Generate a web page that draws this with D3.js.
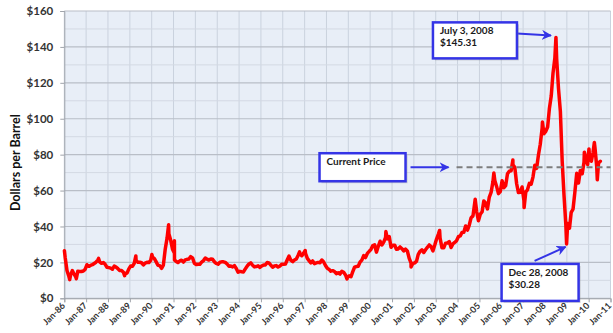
<!DOCTYPE html>
<html>
<head>
<meta charset="utf-8">
<script src="https://cdn.jsdelivr.net/npm/d3@7"></script>
<style>
  body { margin: 0; background: #fff; }
  svg { display: block; font-family: Lato, "Open Sans", sans-serif; }
</style>
</head>
<body>
<script>
// monthly crude price, Jan 1986 .. Jul 2010 (one row per year)
var firstMonth = "1986-01";
var monthlyPrices = [
  22.9, 15.5, 12.6, 12.8, 15.4, 13.4, 11.6, 15.1, 14.9, 14.9, 15.2, 16.1,
  18.7, 17.8, 18.3, 18.7, 19.4, 20.1, 21.3, 20.3, 19.5, 19.9, 18.9, 17.3,
  17.1, 16.8, 16.2, 17.9, 17.4, 16.5, 15.5, 15.5, 14.5, 13.8, 14.1, 16.4,
  18.0, 17.9, 19.5, 21.1, 20.1, 20.1, 19.8, 18.6, 19.6, 20.1, 19.9, 21.1,
  22.9, 22.1, 20.4, 18.4, 18.2, 16.7, 18.5, 27.3, 33.5, 36.0, 32.3, 27.3,
  25.2, 20.5, 19.9, 20.8, 21.2, 20.2, 21.4, 21.7, 21.9, 23.2, 22.5, 19.5,
  18.8, 19.0, 18.9, 20.2, 21.0, 22.4, 21.8, 21.3, 21.9, 21.7, 20.3, 19.4,
  19.0, 20.1, 20.3, 20.3, 20.0, 19.1, 17.9, 18.0, 17.5, 18.2, 16.6, 14.5,
  15.0, 14.8, 14.7, 16.4, 17.9, 19.1, 19.7, 18.4, 17.5, 17.7, 18.1, 17.2,
  18.0, 18.6, 18.5, 19.9, 19.7, 18.5, 17.3, 18.0, 18.2, 17.4, 18.0, 19.0,
  18.9, 19.1, 21.3, 23.5, 21.2, 20.4, 21.3, 21.9, 24.0, 24.9, 23.7, 25.2,
  25.1, 22.2, 21.0, 19.7, 20.8, 19.3, 19.7, 20.0, 19.8, 21.3, 20.2, 18.3,
  16.7, 16.1, 15.1, 15.4, 14.9, 13.7, 14.2, 13.5, 15.0, 14.5, 13.0, 11.4,
  12.5, 12.0, 14.7, 17.3, 17.7, 17.9, 20.1, 21.3, 23.8, 22.7, 25.0, 26.1,
  27.3, 29.4, 29.8, 25.7, 28.8, 31.8, 29.7, 31.3, 33.9, 33.1, 34.4, 28.4,
  29.6, 29.6, 27.3, 27.5, 28.6, 27.6, 26.4, 27.4, 26.2, 22.2, 19.6, 19.4,
  19.7, 20.7, 24.5, 26.2, 27.0, 25.5, 27.0, 28.4, 29.7, 28.8, 26.4, 29.5,
  33.0, 35.8, 33.5, 28.2, 28.1, 30.7, 30.8, 31.6, 28.3, 30.3, 31.1, 32.1,
  34.3, 34.7, 36.7, 36.8, 40.3, 38.0, 40.8, 44.9, 45.9, 53.3, 48.5, 43.2,
  46.8, 48.2, 54.2, 53.0, 49.8, 56.4, 59.0, 65.0, 65.6, 62.3, 58.3, 59.4,
  65.5, 61.6, 62.7, 69.4, 70.8, 71.0, 74.4, 73.0, 63.8, 58.9, 59.1, 62.0,
  54.5, 59.3, 60.4, 64.0, 63.5, 67.5, 74.1, 72.4, 79.9, 85.8, 94.8, 91.7,
  93.0, 95.4, 105.5, 112.6, 125.4, 133.9, 133.4, 116.7, 104.1, 76.6, 57.3, 41.1,
  41.7, 39.1, 47.9, 49.7, 59.0, 69.6, 64.2, 71.1, 69.4, 75.7, 78.0, 74.5,
  78.3, 76.4, 81.2, 84.3, 73.7, 75.3, 76.3
];

// daily highs and lows that show as spikes on the chart
var spikeDates = [
  "1986-01-03", "1986-04-01", "1986-07-21", "1987-07-28", "1988-10-05",
  "1989-04-11", "1990-01-04", "1990-10-11", "1991-01-16", "1991-01-17",
  "1996-10-08", "1997-01-10", "1998-12-10", "2000-09-20", "2001-11-15",
  "2003-03-07", "2004-10-22", "2005-08-30", "2006-07-14", "2007-01-18",
  "2007-11-20", "2008-07-03", "2008-12-28", "2009-10-21", "2010-01-06",
  "2010-04-06", "2010-05-25"
];
var spikePrices = [
  26.5, 10.4, 10.9, 22.2, 12.6,
  23.6, 24.4, 41.0, 32.0, 21.4,
  25.9, 26.6, 10.8, 37.2, 17.5,
  37.8, 55.2, 69.8, 77.0, 50.5,
  98.2, 145.31, 30.28, 81.4, 83.2,
  86.8, 66.0
];

var yTicks = [0, 20, 40, 60, 80, 100, 120, 140, 160];
var yMinor = [10, 30, 50, 70, 90, 110, 130, 150];

var currentPrice = 73;
var currentFrom = "2003-12-15";

var peakText = ["July 3, 2008", "$145.31"];
var lowText = ["Dec 28, 2008", "$30.28"];
var currentText = "Current Price";

var W = 613, H = 333;
var margin = { top: 11, right: 2.5, bottom: 34.7, left: 64.3 };

var parseDay = d3.utcParse("%Y-%m-%d");
var parseMonth = d3.utcParse("%Y-%m");

var points = monthlyPrices.map(function (v, i) {
  var d = d3.utcMonth.offset(parseMonth(firstMonth), i);
  return { date: d3.utcDay.offset(d, 14), value: v };
});
spikeDates.forEach(function (s, i) {
  points.push({ date: parseDay(s), value: spikePrices[i] });
});
points.sort(function (a, b) { return a.date - b.date; });

var svg = d3.select("body").append("svg")
  .attr("width", W)
  .attr("height", H);

var x = d3.scaleUtc()
  .domain([parseDay("1986-01-01"), parseDay("2011-01-01")])
  .range([margin.left, W - margin.right]);

var y = d3.scaleLinear()
  .domain([0, 160])
  .range([H - margin.bottom, margin.top]);

var years = d3.utcYears(parseDay("1986-01-01"), parseDay("2011-01-02"));

// plot background
svg.append("rect")
  .attr("x", x.range()[0])
  .attr("y", y(160))
  .attr("width", x.range()[1] - x.range()[0])
  .attr("height", y(0) - y(160))
  .attr("fill", "#e8eef7");

var grid = svg.append("g");
grid.selectAll(".vg")
  .data(years)
  .enter().append("line")
  .attr("x1", function (d) { return x(d); })
  .attr("x2", function (d) { return x(d); })
  .attr("y1", y(160))
  .attr("y2", y(0))
  .attr("stroke", "#cad2de")
  .attr("stroke-width", 1);

grid.selectAll(".hm")
  .data(yMinor)
  .enter().append("line")
  .attr("x1", x.range()[0])
  .attr("x2", x.range()[1])
  .attr("y1", function (d) { return y(d); })
  .attr("y2", function (d) { return y(d); })
  .attr("stroke", "#d3d9e3")
  .attr("stroke-width", 1);

grid.selectAll(".hg")
  .data(yTicks)
  .enter().append("line")
  .attr("x1", x.range()[0])
  .attr("x2", x.range()[1])
  .attr("y1", function (d) { return y(d); })
  .attr("y2", function (d) { return y(d); })
  .attr("stroke", "#b9bec7")
  .attr("stroke-width", 1.2);

// axes
var yAxis = svg.append("g")
  .attr("transform", "translate(" + x.range()[0] + ",0)")
  .call(d3.axisLeft(y).tickValues(yTicks).tickSize(4).tickPadding(7)
    .tickFormat(function (d) { return "$" + d; }));
yAxis.select(".domain").attr("stroke", "#a0a4ab");
yAxis.selectAll(".tick line").attr("stroke", "#a0a4ab");
yAxis.selectAll("text")
  .attr("fill", "#333")
  .style("font-size", "11.5px")
  .style("font-weight", "bold")
  .style("font-family", "Lato, sans-serif");

var xAxis = svg.append("g")
  .attr("transform", "translate(0," + y(0) + ")")
  .call(d3.axisBottom(x).tickValues(years).tickSize(4)
    .tickFormat(d3.utcFormat("%b-%y")));
xAxis.select(".domain").attr("stroke", "#a0a4ab");
xAxis.selectAll(".tick line").attr("stroke", "#a0a4ab");
xAxis.selectAll("text")
  .attr("fill", "#333")
  .attr("y", 0)
  .attr("dy", 0)
  .attr("transform", "translate(1,8) rotate(-45)")
  .style("text-anchor", "end")
  .style("font-size", "9px")
  .style("font-weight", "bold")
  .style("font-family", "Lato, sans-serif");

svg.append("text")
  .attr("transform", "translate(20," + ((y(0) + y(160)) / 2 + 8) + ") rotate(-90)")
  .style("text-anchor", "middle")
  .style("font-size", "12.5px")
  .style("font-weight", "bold")
  .attr("fill", "#111")
  .text("Dollars per Barrel");

// price line
var line = d3.line()
  .x(function (d) { return x(d.date); })
  .y(function (d) { return y(d.value); });

svg.append("path")
  .datum(points)
  .attr("d", line)
  .attr("fill", "none")
  .attr("stroke", "#ff0000")
  .attr("stroke-width", 3.5)
  .attr("stroke-linejoin", "round")
  .attr("stroke-linecap", "round");

// current price
var cy = y(currentPrice);
var cx0 = x(parseDay(currentFrom));
svg.append("line")
  .attr("x1", cx0)
  .attr("x2", x.range()[1])
  .attr("y1", cy)
  .attr("y2", cy)
  .attr("stroke", "#7d7d7d")
  .attr("stroke-width", 2)
  .attr("stroke-dasharray", "6,4");

// annotations
var blue = "#3434e6";
svg.append("defs").append("marker")
  .attr("id", "arrow")
  .attr("viewBox", "0 0 10 10")
  .attr("refX", 9)
  .attr("refY", 5)
  .attr("markerWidth", 5)
  .attr("markerHeight", 5)
  .attr("orient", "auto")
  .append("path")
  .attr("d", "M0,0L10,5L0,10L3,5Z")
  .attr("fill", blue);

function arrow(x1, y1, x2, y2) {
  svg.append("line")
    .attr("x1", x1).attr("y1", y1)
    .attr("x2", x2).attr("y2", y2)
    .attr("stroke", blue)
    .attr("stroke-width", 2)
    .attr("marker-end", "url(#arrow)");
}

function box(bx, by, bw, bh, lines, dy) {
  svg.append("rect")
    .attr("x", bx + 2).attr("y", by + 2)
    .attr("width", bw).attr("height", bh)
    .attr("fill", "#888").attr("opacity", 0.35);
  svg.append("rect")
    .attr("x", bx).attr("y", by)
    .attr("width", bw).attr("height", bh)
    .attr("fill", "#fff")
    .attr("stroke", blue)
    .attr("stroke-width", 2.5);
  lines.forEach(function (t, i) {
    svg.append("text")
      .attr("x", bx + 7)
      .attr("y", by + dy + i * 11.5)
      .attr("fill", "#1a1a1a")
      .style("font-size", "10px")
      .style("font-weight", "bold")
      .text(t);
  });
}

var px = x(parseDay("2008-07-03")), py = y(145.31);
arrow(px - 39, py - 4, px - 5, py - 2);
box(px - 123, py - 15, 84, 36, peakText, 12);

var lx = x(parseDay("2008-12-28")), ly = y(30.28);
arrow(lx - 32, ly + 17, lx - 1, ly + 3);
box(lx - 65, ly + 20, 77, 37, lowText, 12.5);

arrow(cx0 - 46, cy, cx0 - 8, cy);
box(cx0 - 137, cy - 14, 86, 28, [currentText], 12);
</script>
</body>
</html>
